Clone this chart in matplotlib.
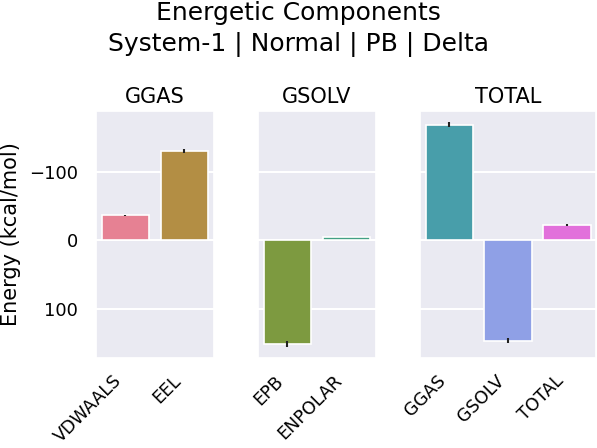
import matplotlib
matplotlib.use("Agg")
import matplotlib.pyplot as plt
import seaborn as sns
import numpy as np

sns.set_theme(style="darkgrid")
plt.rcParams['font.family'] = ['DejaVu Sans']
plt.rcParams['text.color'] = 'black'
plt.rcParams['axes.labelcolor'] = 'black'
plt.rcParams['xtick.color'] = 'black'
plt.rcParams['ytick.color'] = 'black'

# ---- data ----
groups = ["GGAS", "GSOLV", "TOTAL"]
ggas_terms = ["VDWAALS", "EEL"]
ggas_values = [-36.7, -130.9]
ggas_errors = [0.8, 3.4]
gsolv_terms = ["EPB", "ENPOLAR"]
gsolv_values = [151.7, -5.0]
gsolv_errors = [4.0, 0.6]
total_terms = ["GGAS", "GSOLV", "TOTAL"]
total_values = [-169.6, 146.8, -22.2]
total_errors = [3.6, 3.5, 1.6]

panels = [
    (groups[0], ggas_terms, ggas_values, ggas_errors),
    (groups[1], gsolv_terms, gsolv_values, gsolv_errors),
    (groups[2], total_terms, total_values, total_errors),
]

palette = [sns.desaturate(c, 0.75) for c in sns.color_palette("husl", 7)]

fig = plt.figure(figsize=(5.97, 4.48), dpi=100)
gs = fig.add_gridspec(1, 3, width_ratios=[2, 2, 3], left=96/597, right=0.999,
                      top=1-111/448, bottom=1-358/448, wspace=0.32)
axes = []
ci = 0
for i, (title, terms, vals, errs) in enumerate(panels):
    ax = fig.add_subplot(gs[0, i], sharey=axes[0] if axes else None)
    axes.append(ax)
    x = np.arange(len(terms))
    cols = palette[ci:ci + len(terms)]
    ci += len(terms)
    ax.bar(x, vals, width=0.8, color=cols, edgecolor="white", linewidth=1.2, zorder=2)
    for xi, v, e in zip(x, vals, errs):
        ax.plot([xi, xi], [v - e, v + e], color="#222222", lw=1.5, zorder=3,
                solid_capstyle="butt")
    ax.set_xlim(-0.5, len(terms) - 0.5)
    ax.set_xticks(x)
    ax.set_xticklabels(terms, rotation=45, ha="right", fontsize=12.6)
    ax.grid(axis="x", visible=False)
    ax.grid(axis="y", color="white", linewidth=1.5)
    ax.set_title(title, fontsize=15, pad=6)
    ax.tick_params(axis="x", length=0, pad=10)
    ax.tick_params(axis="y", length=0)
    if i > 0:
        ax.tick_params(axis="y", labelleft=False)

axes[0].invert_yaxis()
axes[0].set_yticks([-100, 0, 100])
axes[0].tick_params(axis="y", labelsize=13, pad=13)
axes[0].set_ylabel("Energy (kcal/mol)", fontsize=15)
axes[0].yaxis.set_label_coords(-0.635, 0.5)

fig.suptitle("Energetic Components\nSystem-1 | Normal | PB | Delta", fontsize=18,
             y=0.997, va="top", linespacing=1.35)

fig.savefig("out.png", dpi=100)
